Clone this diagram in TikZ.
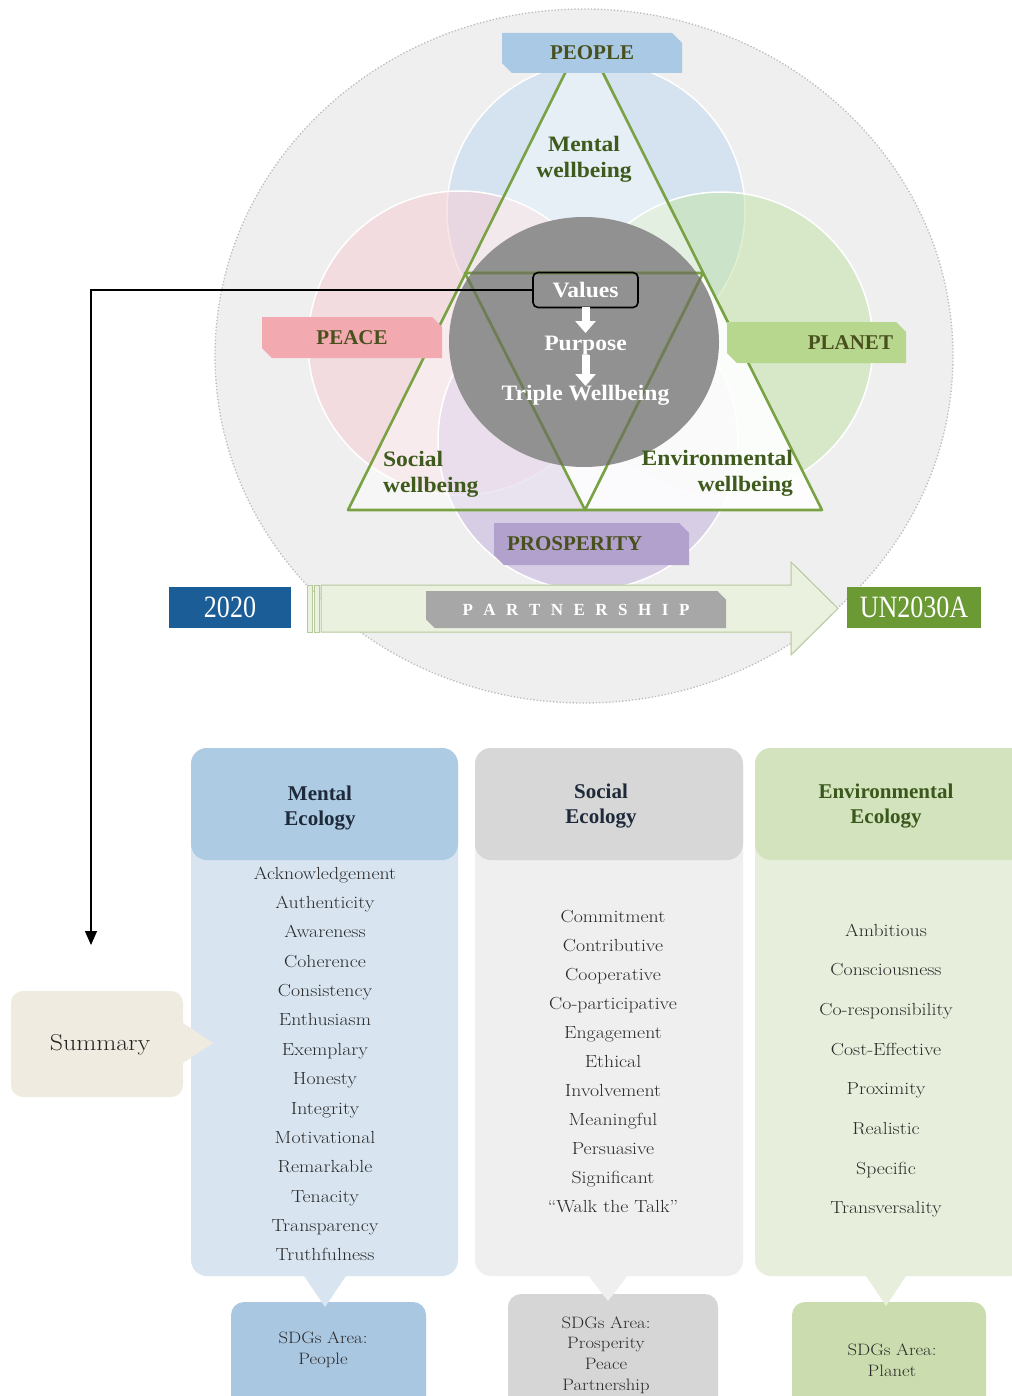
\documentclass[tikz,border=0pt]{standalone}
\usepackage{fontspec}
\newfontfamily\hdfont{Liberation Serif}
\newfontfamily\widefont[FakeStretch=1.07]{Liberation Serif}
\newfontfamily\narrowfont[FakeStretch=0.84]{Liberation Serif}
\newfontfamily\itemfont[FakeStretch=1.13]{Latin Modern Roman}
\usetikzlibrary{shapes.misc,arrows.meta}

% ring and circles
\definecolor{ringfill}{HTML}{EFEFEF}
\definecolor{ringline}{HTML}{BCBCBC}
\definecolor{peoplec}{HTML}{C0D8F0}
\definecolor{peacec}{HTML}{F8CED4}
\definecolor{planetc}{HTML}{C4E4AA}
\definecolor{prospc}{HTML}{C4B2DE}
\definecolor{coregray}{HTML}{919191}
\definecolor{trigreen}{HTML}{78A243}
\definecolor{trigray}{HTML}{6F7B5A}
\definecolor{wbtext}{HTML}{3E5A1C}
\definecolor{lbltext}{HTML}{48501E}
% label boxes
\definecolor{peoplebox}{HTML}{A9C9E5}
\definecolor{peacebox}{HTML}{F2A9AF}
\definecolor{planetbox}{HTML}{B7D78F}
\definecolor{prospbox}{HTML}{B3A1CD}
\definecolor{partbox}{HTML}{A7A7A7}
\definecolor{arrowfill}{HTML}{EAF1DF}
\definecolor{arrowline}{HTML}{B5C99B}
\definecolor{yearblue}{HTML}{1B5D97}
\definecolor{goalgreen}{HTML}{6B9A35}
% ecology columns
\definecolor{mhead}{HTML}{AECBE4}
\definecolor{mbody}{HTML}{D8E5F1}
\definecolor{msdg}{HTML}{AAC7E2}
\definecolor{shead}{HTML}{D7D7D7}
\definecolor{sbody}{HTML}{EFEFEF}
\definecolor{ssdg}{HTML}{D6D6D6}
\definecolor{ehead}{HTML}{D3E3BD}
\definecolor{ebody}{HTML}{E7EFDC}
\definecolor{esdg}{HTML}{CBDDAE}
\definecolor{sumfill}{HTML}{EFEBE0}
\definecolor{headtext}{HTML}{1E2A3A}
\definecolor{envtext}{HTML}{3A581C}
\definecolor{itemtext}{HTML}{2A2A2A}

\begin{document}
\begin{tikzpicture}[x=1pt,y=-1pt,
  every node/.style={inner sep=0pt, outer sep=0pt},
  snipbox/.style={chamfered rectangle, chamfered rectangle corners={north east,south west},
    chamfered rectangle xsep=7pt, chamfered rectangle angle=45},
  lbl/.style={snipbox, font=\hdfont\bfseries\fontsize{21}{24}\selectfont, text=lbltext},
  wb/.style={font=\widefont\bfseries\fontsize{22}{26}\selectfont, text=wbtext},
  core/.style={font=\widefont\bfseries\fontsize{22}{26}\selectfont, text=white,
    text height=15pt, text depth=5pt},
  valbox/.style={draw=black, line width=1.6pt, rounded corners=5pt,
    minimum width=105pt, minimum height=35pt, text height=15pt, text depth=0pt},
  warrow/.style={white, line width=8pt, shorten >=2pt,
    -{Triangle[length=12pt,width=20pt]}},
  conn/.style={black, line width=1.3pt, -{Triangle[length=14pt,width=12pt]}},
  yearbox/.style={font=\narrowfont\fontsize{31}{31}\selectfont, text=white,
    minimum height=41pt},
  colbox/.style={rounded corners=16pt},
  colhead/.style={colbox, minimum width=267pt, minimum height=112pt},
  coltitle/.style={align=center, font=\hdfont\bfseries\fontsize{21}{25}\selectfont},
  item/.style={anchor=base, text=itemtext, font=\itemfont\fontsize{17.5}{20}\selectfont},
  sdg/.style={colbox, rounded corners=13pt},
  sdgtext/.style={align=center, text=itemtext, font=\itemfont\fontsize{16.5}{20.7}\selectfont}]

\useasboundingbox (0,0) rectangle (1011,1396);
\fill[white] (0,0) rectangle (1011,1396);

% outer dotted ring
\path[fill=ringfill, draw=ringline, line width=1.3pt, dotted]
  (584,356) ellipse[x radius=369pt, y radius=347pt];

% the four SDG circles
\path[fill=peoplec, fill opacity=.55, draw=white, line width=1.5pt] (596,211) circle[radius=149pt];
\path[fill=peacec, fill opacity=.55, draw=white, line width=1.5pt] (460,343) circle[radius=152pt];
\path[fill=planetc, fill opacity=.55, draw=white, line width=1.5pt] (721,344) circle[radius=152pt];
\path[fill=prospc, fill opacity=.55, draw=white, line width=1.5pt] (588,440) circle[radius=150pt];

% lightened triangle regions
\fill[white, fill opacity=.45] (584,35) -- (822,510) -- (348,510) -- cycle;
\fill[white, fill opacity=.85] (703,273) -- (822,510) -- (585,510) -- cycle;
\fill[white, fill opacity=.85] (465,273) -- (703,273) -- (585,510) -- cycle;

% grey core
\fill[coregray] (584,342) ellipse[x radius=135pt, y radius=125pt];

% triangles
\draw[trigreen, line width=2.6pt, line join=round] (584,35) -- (822,510) -- (348,510) -- cycle;
\draw[trigreen, line width=2.6pt, line join=round] (465,273) -- (703,273) -- (585,510) -- cycle;
\begin{scope}
  \clip (584,342) ellipse[x radius=135pt, y radius=125pt];
  \draw[trigray, line width=2.6pt] (584,35) -- (822,510) -- (348,510) -- cycle;
  \draw[trigray, line width=2.6pt] (465,273) -- (703,273) -- (585,510) -- cycle;
\end{scope}

% wellbeing labels
\node[wb, align=center] (mentalwb) at (584,159) {Mental\\wellbeing};
\node[wb, align=left, anchor=west] (socialwb) at (383,474) {Social\\wellbeing};
\node[wb, align=right, anchor=east] (envwb) at (793,473) {Environmental\\wellbeing};

% SDG area labels
\node[lbl, fill=peoplebox, minimum width=180pt, minimum height=40pt] (peoplelbl) at (592,53) {PEOPLE};
\node[lbl, fill=peacebox, minimum width=180pt, minimum height=41pt] (peacelbl) at (352,337.5) {PEACE};
\node[lbl, fill=planetbox, minimum width=179pt, minimum height=41pt, text width=153pt, align=right]
  (planetlbl) at (816.5,342.5) {PLANET};
\node[lbl, fill=prospbox, minimum width=195pt, minimum height=42pt, text width=169pt, align=left]
  (prosplbl) at (591.5,544) {PROSPERITY};

% values -> purpose -> triple wellbeing
\node[core, valbox] (values) at (585.5,290) {Values};
\node[core] (purpose) at (585.5,345) {Purpose};
\node[core] (triple) at (585.5,395) {Triple Wellbeing};
\draw[warrow] (values.south) -- (purpose.north);
\draw[warrow] (purpose.south) -- ([yshift=-3pt]triple.north);

% timeline arrow
\filldraw[fill=arrowfill, draw=arrowline, line width=1pt]
  (321,585) -- (791,585) -- (791,562) -- (838,608.5) -- (791,655) -- (791,632) -- (321,632) -- cycle;
\filldraw[fill=arrowfill, draw=arrowline, line width=1pt] (307,585) rectangle (312.5,632);
\filldraw[fill=arrowfill, draw=arrowline, line width=1pt] (314,585) rectangle (319.5,632);
\node[snipbox, fill=partbox, minimum width=300pt, minimum height=37pt,
  font=\hdfont\bfseries\fontsize{17}{17}\selectfont, text=white] (partner) at (576,609.5)
  {P\hspace{10.5pt}A\hspace{10.5pt}R\hspace{10.5pt}T\hspace{10.5pt}N\hspace{10.5pt}E\hspace{10.5pt}R\hspace{10.5pt}S\hspace{10.5pt}H\hspace{10.5pt}I\hspace{10.5pt}P};
\node[yearbox, fill=yearblue, minimum width=122pt] (y2020) at (230,607.5) {2020};
\node[yearbox, fill=goalgreen, minimum width=134pt] (un2030) at (914,607.5) {UN2030A};

% ecology columns
\node[colbox, fill=mbody, minimum width=267pt, minimum height=528pt] (mcol) at (324.5,1012) {};
\node[colbox, fill=sbody, minimum width=268pt, minimum height=528pt] (scol) at (609,1012) {};
\node[colbox, fill=ebody, minimum width=280pt, minimum height=528pt] (ecol) at (895,1012) {};
\node[colhead, fill=mhead] (mhd) at (324.5,804) {};
\node[colhead, fill=shead, minimum width=268pt] (shd) at (609,804) {};
\node[colhead, fill=ehead, minimum width=280pt] (ehd) at (895,804) {};
\node[coltitle, text=headtext] (mtitle) at (320,808) {Mental\\Ecology};
\node[coltitle, text=headtext] (stitle) at (601,806) {Social\\Ecology};
\node[coltitle, text=envtext] (etitle) at (886,806) {Environmental\\Ecology};

% SDG area boxes under the columns
\node[sdg, fill=msdg, minimum width=195pt, minimum height=110pt] (msdgbox) at (328.5,1357) {};
\node[sdg, fill=ssdg, minimum width=210pt, minimum height=120pt] (ssdgbox) at (613,1354) {};
\node[sdg, fill=esdg, minimum width=194pt, minimum height=110pt] (esdgbox) at (889,1357) {};
\fill[mbody] (300,1270) -- (350,1270) -- (325,1307) -- cycle;
\fill[sbody] (584,1270) -- (632,1270) -- (608,1301) -- cycle;
\fill[ebody] (862,1270) -- (910,1270) -- (886,1306) -- cycle;
\node[sdgtext] (msdgtxt) at (323,1350) {SDGs Area:\\People};
\node[sdgtext] (ssdgtxt) at (606,1355) {SDGs Area:\\Prosperity\\Peace\\Partnership};
\node[sdgtext] (esdgtxt) at (892,1360) {SDGs Area:\\Planet};

% value lists
\foreach \w [count=\i from 0] in {Acknowledgement,Authenticity,Awareness,Coherence,
  Consistency,Enthusiasm,Exemplary,Honesty,Integrity,Motivational,Remarkable,Tenacity,
  Transparency,Truthfulness}
  \node[item] (mitem\i) at (325,{879+\i*29.38}) {\w};
\foreach \w [count=\i from 0] in {Commitment,Contributive,Cooperative,Co-participative,
  Engagement,Ethical,Involvement,Meaningful,Persuasive,Significant,“Walk the Talk”}
  \node[item] (sitem\i) at (613,{922+\i*29.0}) {\w};
\foreach \w [count=\i from 0] in {Ambitious,Consciousness,Co-responsibility,Cost-Effective,
  Proximity,Realistic,Specific,Transversality}
  \node[item] (eitem\i) at (886,{936+\i*39.71}) {\w};

% summary callout
\node[colbox, rounded corners=12pt, fill=sumfill, minimum width=172pt, minimum height=106pt]
  (summ) at (97,1044) {};
\fill[sumfill] (180,1021) -- (213,1043) -- (180,1065) -- cycle;
\node[font=\itemfont\fontsize{23}{26}\selectfont, text=black!85] (summtxt) at (100,1045) {Summary};

% link from the values box down to the summary
\coordinate (sumtop) at (91,945);
\draw[conn] (values.west) -| (sumtop);

\end{tikzpicture}
\end{document}
